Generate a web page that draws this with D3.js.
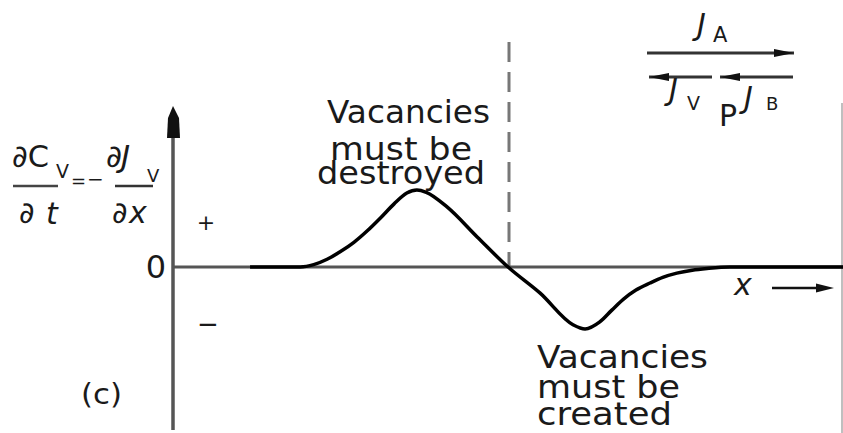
<!DOCTYPE html>
<html>
<head>
<meta charset="utf-8">
<script src="https://cdn.jsdelivr.net/npm/d3@7"></script>
<style>
  html, body { margin: 0; padding: 0; background: #fff; }
  svg { display: block; }
  text { font-family: "DejaVu Sans", sans-serif; fill: #1a1a1a; }
</style>
</head>
<body>
<svg id="chart" width="843" height="433"></svg>
<script>
// Profile of dC_V/dt = -dJ_V/dx across the diffusion zone
const profileX = [11.5, 19, 21, 23, 25, 27, 29, 31, 33, 34.9, 36.4, 37.8, 40.9, 45.4, 50, 54.8, 59.7, 61.5, 63.7, 65.5, 67.2, 69.1, 71.2, 73.1, 75.2, 77.5, 79.7, 83.1, 100];
const profileY = [0, 0, 0.03, 0.1, 0.2, 0.32, 0.47, 0.64, 0.82, 0.96, 1.0, 0.97, 0.78, 0.39, 0, -0.34, -0.75, -0.805, -0.714, -0.56, -0.42, -0.3, -0.208, -0.135, -0.08, -0.042, -0.02, 0, 0];

// Position of the plane P (where the rate changes sign)
const planeX = 50;

// Axis ranges
const xDomain = [0, 100];
const yDomain = [-1, 1];

// Annotation lines
const upperNote = ["Vacancies", "must be", "destroyed"];
const lowerNote = ["Vacancies", "must be", "created"];
const signLabels = ["+", "−"];
const zeroLabel = "0";
const panelLabel = "(c)";

const svg = d3.select("#chart");

const x = d3.scaleLinear().domain(xDomain).range([173, 843]);
const y = d3.scaleLinear().domain(yDomain).range([344, 190]);

const ink = "#111";

// Frame edge on the right
svg.append("line")
  .attr("x1", 842).attr("x2", 842).attr("y1", 103).attr("y2", 433)
  .attr("stroke", "#aaa").attr("stroke-width", 1.5);

// Dashed marker at plane P
svg.append("line")
  .attr("x1", x(planeX) + 1).attr("x2", x(planeX) + 1)
  .attr("y1", 42).attr("y2", y(0))
  .attr("stroke", "#777").attr("stroke-width", 3)
  .attr("stroke-dasharray", "20,10");

// Horizontal axis through zero
svg.append("line")
  .attr("x1", x(xDomain[0])).attr("x2", x(xDomain[1]))
  .attr("y1", y(0)).attr("y2", y(0))
  .attr("stroke", "#555").attr("stroke-width", 3);

// Vertical axis with arrow
const yAxisX = x(xDomain[0]);
svg.append("line")
  .attr("x1", yAxisX).attr("x2", yAxisX)
  .attr("y1", 130).attr("y2", 430)
  .attr("stroke", "#555").attr("stroke-width", 3.5);
svg.append("path")
  .attr("d", `M${yAxisX},106 L${yAxisX + 6},118 L${yAxisX + 7},138 L${yAxisX - 6},138 L${yAxisX - 5},118 Z`)
  .attr("fill", ink);

// The rate profile
const line = d3.line()
  .x((d, i) => x(profileX[i]))
  .y(d => y(d))
  .curve(d3.curveMonotoneX);
svg.append("path")
  .attr("d", line(profileY))
  .attr("fill", "none")
  .attr("stroke", "#000")
  .attr("stroke-width", 3.5)
  .attr("stroke-linejoin", "round");

// Zero, sign and panel labels
svg.append("text").attr("x", 166).attr("y", 278).attr("text-anchor", "end")
  .attr("font-size", 32).text(zeroLabel);
svg.append("text").attr("x", 206).attr("y", 230).attr("text-anchor", "middle")
  .attr("font-size", 22).text(signLabels[0]);
svg.append("text").attr("x", 208).attr("y", 333).attr("text-anchor", "middle")
  .attr("font-size", 26).text(signLabels[1]);
svg.append("text").attr("x", 81).attr("y", 404)
  .attr("font-size", 28).attr("textLength", 41).attr("lengthAdjust", "spacingAndGlyphs")
  .text(panelLabel);

// Notes
const upperPos = [{x: 327, y: 123, w: 163}, {x: 330, y: 160, w: 142}, {x: 317, y: 184, w: 168}];
upperNote.forEach((t, i) => {
  svg.append("text").attr("x", upperPos[i].x).attr("y", upperPos[i].y)
    .attr("font-size", 32).attr("textLength", upperPos[i].w).attr("lengthAdjust", "spacingAndGlyphs")
    .text(t);
});
const lowerPos = [{x: 537, y: 368, w: 171}, {x: 537, y: 398, w: 143}, {x: 537, y: 425, w: 135}];
lowerNote.forEach((t, i) => {
  svg.append("text").attr("x", lowerPos[i].x).attr("y", lowerPos[i].y)
    .attr("font-size", 32).attr("textLength", lowerPos[i].w).attr("lengthAdjust", "spacingAndGlyphs")
    .text(t);
});

// x label with arrow
svg.append("text").attr("x", 734).attr("y", 295).attr("font-size", 30)
  .attr("font-style", "italic").text("x");
svg.append("line").attr("x1", 772).attr("x2", 820).attr("y1", 288).attr("y2", 288)
  .attr("stroke", ink).attr("stroke-width", 2.5);
svg.append("path").attr("d", "M834,288 L816,283.5 L816,292.5 Z").attr("fill", ink);

// Flux arrows
function arrow(x1, x2, yy, headAtEnd) {
  const tip = headAtEnd ? x2 : x1;
  const dir = headAtEnd ? -1 : 1;
  svg.append("line").attr("x1", x1).attr("x2", x2).attr("y1", yy).attr("y2", yy)
    .attr("stroke", "#333").attr("stroke-width", 3);
  svg.append("path")
    .attr("d", `M${tip},${yy} L${tip + dir * 20},${yy - 4} L${tip + dir * 20},${yy + 4} Z`)
    .attr("fill", ink);
}
arrow(647, 794, 53, true);
arrow(649, 712, 77, false);
arrow(720, 793, 77, false);

function flux(xj, yj, sub, sx, sy, ss) {
  svg.append("text").attr("x", xj).attr("y", yj).attr("font-size", 30)
    .attr("font-style", "italic").text("J");
  svg.append("text").attr("x", sx).attr("y", sy).attr("font-size", ss).text(sub);
}
flux(697, 35, "A", 713, 42, 21);
flux(669, 100, "V", 687, 110, 19);
flux(744, 108, "B", 766, 110, 18);
svg.append("text").attr("x", 719).attr("y", 126).attr("font-size", 30).text("P");

// Left-hand formula: dC_V/dt = - dJ_V/dx
const f = svg.append("g");
f.append("text").attr("x", 12).attr("y", 167).attr("font-size", 31)
  .attr("textLength", 37).attr("lengthAdjust", "spacingAndGlyphs").text("∂C");
f.append("text").attr("x", 56).attr("y", 178).attr("font-size", 19).text("V");
f.append("text").attr("x", 71).attr("y", 187).attr("font-size", 18).text("=");
f.append("text").attr("x", 87).attr("y", 186).attr("font-size", 20).text("−");
f.append("text").attr("x", 106).attr("y", 167).attr("font-size", 31).text("∂");
f.append("text").attr("x", 121).attr("y", 167).attr("font-size", 31).attr("font-style", "italic").text("J");
f.append("text").attr("x", 147).attr("y", 182).attr("font-size", 18).text("V");
f.append("line").attr("x1", 13).attr("x2", 58).attr("y1", 186).attr("y2", 186)
  .attr("stroke", "#444").attr("stroke-width", 2.5);
f.append("line").attr("x1", 115).attr("x2", 153).attr("y1", 186).attr("y2", 186)
  .attr("stroke", "#333").attr("stroke-width", 2.5);
f.append("text").attr("x", 19).attr("y", 223).attr("font-size", 30).text("∂");
f.append("text").attr("x", 46).attr("y", 224).attr("font-size", 30).attr("font-style", "italic").text("t");
f.append("text").attr("x", 112).attr("y", 223).attr("font-size", 30).text("∂");
f.append("text").attr("x", 129).attr("y", 223).attr("font-size", 30).attr("font-style", "italic").text("x");
</script>
</body>
</html>
